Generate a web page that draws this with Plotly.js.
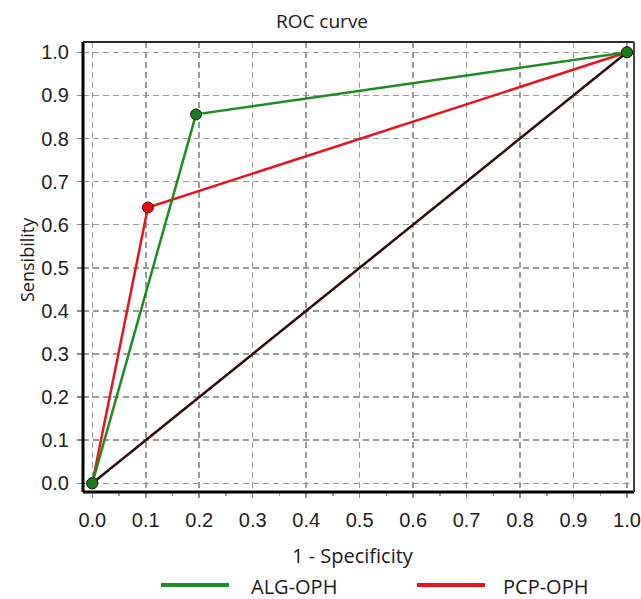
<!DOCTYPE html>
<html>
<head>
<meta charset="utf-8">
<script src="https://cdn.plot.ly/plotly-3.0.1.min.js"></script>
<style>html,body{margin:0;padding:0;background:#fff;}#chart{width:641px;height:599px;}</style>
</head>
<body>
<div id="chart"></div>
<script>
// Data
const seriesNames = ["ALG-OPH", "PCP-OPH"];
const algX = [0, 0.194, 1];
const algY = [0, 0.856, 1];
const pcpX = [0, 0.104, 1];
const pcpY = [0, 0.640, 1];
const refX = [0, 1];
const refY = [0, 1];
const tickVals = [0, 0.1, 0.2, 0.3, 0.4, 0.5, 0.6, 0.7, 0.8, 0.9, 1.0];
const tickText = ["0.0", "0.1", "0.2", "0.3", "0.4", "0.5", "0.6", "0.7", "0.8", "0.9", "1.0"];
const chartTitle = "ROC curve";
const xTitle = "1 - Specificity";
const yTitle = "Sensibility";

const green = "#1f8b24";
const red = "#e8141c";

const traces = [
  {x: refX, y: refY, mode: "lines", line: {color: "#2a0c0c", width: 2.5}, showlegend: false, hoverinfo: "skip"},
  {x: pcpX, y: pcpY, mode: "lines+markers", name: seriesNames[1],
   line: {color: red, width: 2.5},
   marker: {size: 11, color: "#e01010", line: {color: "#6a0000", width: 1}}, showlegend: false},
  {x: algX, y: algY, mode: "lines+markers", name: seriesNames[0],
   line: {color: green, width: 2.5},
   marker: {size: 11, color: "#1b7a1e", line: {color: "#0a300a", width: 1}}, showlegend: false}
];

const W = 641, H = 599;
const L = 83, R = 7, T = 42, B = 107;
const pw = W - L - R, ph = H - T - B;
function px2x(p){ return (p - L) / pw; }
function py2y(p){ return (H - B - p) / ph; }

const segFam = "Open Sans, Noto Sans, sans-serif";
const segFont = {family: segFam, size: 20, color: "#1a1a1a"};

const axisCommon = {
  tickvals: tickVals, ticktext: tickText,
  showgrid: true, gridcolor: "#9a9a9a", gridwidth: 1.5, griddash: "6px,4px",
  zeroline: false, showline: false,
  ticks: "outside", ticklen: 5, tickcolor: "#8a8a8a", tickwidth: 1.5,
  tickfont: {family: "Liberation Sans, Arial, sans-serif", size: 20, color: "#1e1e1e"},
  fixedrange: true
};

const layout = {
  width: W, height: H,
  margin: {l: L, r: R, t: T, b: B, pad: 0},
  paper_bgcolor: "#fff", plot_bgcolor: "#fff",
  showlegend: false,
  title: {text: chartTitle, x: 322 / W, xref: "container", xanchor: "center",
          y: 1 - 21 / H, yref: "container", yanchor: "middle",
          font: {family: segFam, size: 19, color: "#1a1a1a"}},
  xaxis: Object.assign({}, axisCommon, {
    range: [-0.0174, 1.0131],
    ticklabelstandoff: 5,
    minor: {dtick: 0.05, tick0: 0, ticks: "outside", ticklen: 3, tickcolor: "#9a9a9a", showgrid: false}
  }),
  yaxis: Object.assign({}, axisCommon, {
    range: [-0.0202, 1.0239],
    ticklabelstandoff: 4
  }),
  shapes: [
    // frame
    {type: "line", xref: "paper", yref: "paper", x0: 0, x1: 0, y0: 0, y1: 1, line: {color: "#000", width: 3}},
    {type: "line", xref: "paper", yref: "paper", x0: 0, x1: 1, y0: 0, y1: 0, line: {color: "#000", width: 3}},
    {type: "line", xref: "paper", yref: "paper", x0: 0, x1: 1, y0: 1, y1: 1, line: {color: "#2a2a2a", width: 2}},
    {type: "line", xref: "paper", yref: "paper", x0: 1, x1: 1, y0: 0, y1: 1, line: {color: "#444", width: 2}},
    // legend samples
    {type: "line", xref: "paper", yref: "paper", x0: px2x(161), x1: px2x(229), y0: py2y(585), y1: py2y(585), line: {color: green, width: 4}},
    {type: "line", xref: "paper", yref: "paper", x0: px2x(417), x1: px2x(485), y0: py2y(585), y1: py2y(585), line: {color: red, width: 4}}
  ],
  annotations: [
    {text: xTitle, xref: "paper", yref: "paper", x: px2x(353), y: py2y(555), xanchor: "center", yanchor: "middle", showarrow: false, font: segFont},
    {text: yTitle, xref: "paper", yref: "paper", x: px2x(27), y: py2y(260), xanchor: "center", yanchor: "middle", textangle: -90, showarrow: false, font: {family: segFam, size: 18, color: "#1a1a1a"}},
    {text: seriesNames[0], xref: "paper", yref: "paper", x: px2x(249), y: py2y(586), xanchor: "left", yanchor: "middle", showarrow: false, font: segFont},
    {text: seriesNames[1], xref: "paper", yref: "paper", x: px2x(501), y: py2y(586), xanchor: "left", yanchor: "middle", showarrow: false, font: segFont}
  ]
};

Plotly.newPlot("chart", traces, layout, {displayModeBar: false, staticPlot: true});
</script>
</body>
</html>
